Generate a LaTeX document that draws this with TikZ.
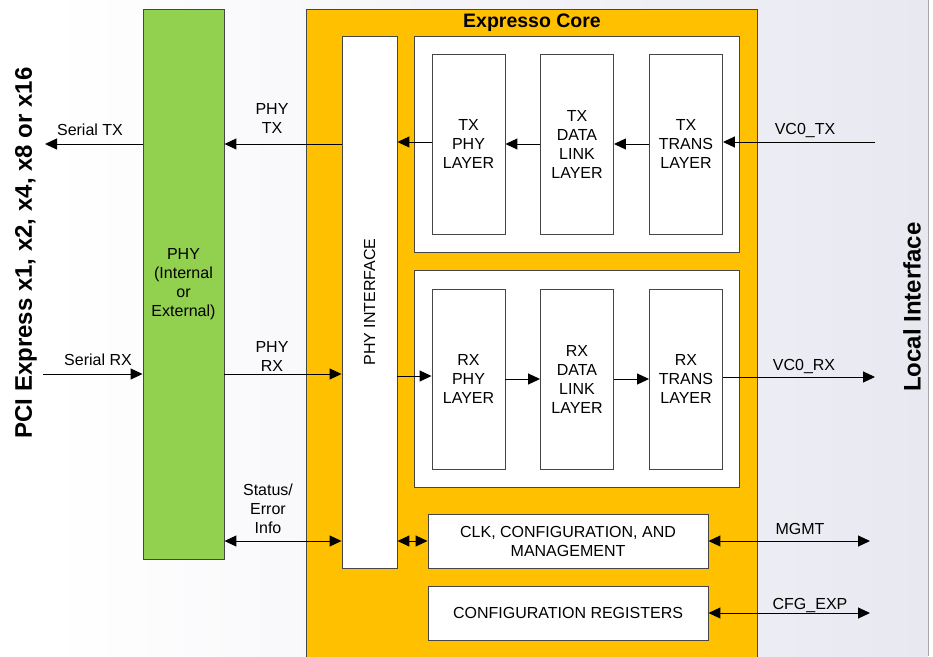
\documentclass[tikz,border=0pt]{standalone}
\usepackage{fontspec}
\setmainfont{Liberation Sans}
\usetikzlibrary{arrows.meta,shadings}
\definecolor{phygreen}{RGB}{146,208,80}
\definecolor{coreorange}{RGB}{255,192,0}
\definecolor{bgright}{RGB}{232,232,241}
\definecolor{edge}{RGB}{70,70,70}
\tikzset{
  box/.style={draw=edge,line width=0.9pt,fill=white,inner sep=0pt,align=center,
    font=\fontsize{16}{19}\selectfont},
  lbl/.style={inner sep=0pt,align=center,font=\fontsize{16}{19}\selectfont},
  title/.style={inner sep=0pt,font=\fontsize{24}{28}\selectfont\bfseries},
  arr/.style={line width=1pt,-{Triangle[length=12pt,width=11pt]}},
  barr/.style={line width=1pt,{Triangle[length=12pt,width=11pt]}-{Triangle[length=12pt,width=11pt]}}
}
\begin{document}
\begin{tikzpicture}[x=1pt,y=-1pt]
\useasboundingbox (0,0) rectangle (933,656);
\clip (0,0) rectangle (933,656);
% background
\shade[left color=white,right color=bgright] (50,0) rectangle (928,656);
\draw[gray!70,line width=0.8pt] (928,0) -- (928,656);
% main blocks
\node[box,fill=phygreen,minimum width=81pt,minimum height=550pt] (phy) at (183.5,284)
  {PHY\\(Internal\\or\\External)};
\node[box,fill=coreorange,minimum width=451pt,minimum height=660pt] (core) at (531.5,339) {};
\node[inner sep=0pt,font=\fontsize{19.5}{22}\selectfont\bfseries] (coret) at (532,23) {Expresso Core};
\node[box,minimum width=55pt,minimum height=532pt] (phyif) at (369.5,302) {};
\node[lbl,rotate=90] (phyift) at (phyif.center) {PHY INTERFACE};
\node[box,minimum width=325pt,minimum height=216pt] (txg) at (576.5,144) {};
\node[box,minimum width=325pt,minimum height=217pt] (rxg) at (576.5,378.5) {};
% TX layers
\node[box,minimum width=73pt,minimum height=180pt] (txphy) at (468.5,144) {TX\\PHY\\LAYER};
\node[box,minimum width=73pt,minimum height=180pt] (txdl) at (577,144) {TX\\DATA\\LINK\\LAYER};
\node[box,minimum width=73pt,minimum height=180pt] (txtr) at (686,144) {TX\\TRANS\\LAYER};
% RX layers
\node[box,minimum width=73pt,minimum height=180pt] (rxphy) at (468.5,379) {RX\\PHY\\LAYER};
\node[box,minimum width=73pt,minimum height=180pt] (rxdl) at (577,379) {RX\\DATA\\LINK\\LAYER};
\node[box,minimum width=73pt,minimum height=180pt] (rxtr) at (686,379) {RX\\TRANS\\LAYER};
% bottom boxes
\node[box,minimum width=280pt,minimum height=54pt] (clk) at (568,541) {CLK, CONFIGURATION, AND\\MANAGEMENT};
\node[box,minimum width=280pt,minimum height=54pt] (cfg) at (568,613) {CONFIGURATION REGISTERS};
% side titles
\node[title,rotate=90] (pcie) at (26,253) {PCI Express x1, x2, x4, x8 or x16};
\node[title,rotate=90] (loc) at (912,307) {Local Interface};
% free ends
\coordinate (stx) at (45,144);
\coordinate (srx) at (43,374);
\coordinate (vtx) at (875,142);
\coordinate (vrx) at (875,377);
\coordinate (mg) at (870,541);
\coordinate (ce) at (870,613);
% TX path
\draw[arr] (phy.west |- stx) -- (stx);
\draw[arr] (phyif.west |- stx) -- (phy.east |- stx);
\draw[arr] (txphy.west |- 0,142) -- (phyif.east |- 0,142);
\draw[arr] (txdl.west) -- (txphy.east);
\draw[arr] (txtr.west) -- (txdl.east);
\draw[arr] (vtx) -- (txtr.east |- vtx);
% RX path
\draw[arr] (srx) -- (phy.west |- srx);
\draw[arr] (phy.east |- srx) -- (phyif.west |- srx);
\draw[arr] (phyif.east |- 0,376) -- (rxphy.west |- 0,376);
\draw[arr] (rxphy.east) -- (rxdl.west);
\draw[arr] (rxdl.east) -- (rxtr.west);
\draw[arr] (rxtr.east |- vrx) -- (vrx);
% status / mgmt
\draw[barr] (phy.east |- clk) -- (phyif.west |- clk);
\draw[barr] (phyif.east |- clk) -- (clk.west);
\draw[barr] (clk.east) -- (mg);
\draw[barr] (cfg.east) -- (ce);
% labels
\node[lbl] (l1) at (90,130) {Serial TX};
\node[lbl] (l2) at (272,118) {PHY\\TX};
\node[lbl] (l3) at (98,360) {Serial RX};
\node[lbl] (l4) at (272,356) {PHY\\RX};
\node[lbl] (l5) at (268,509) {Status/\\Error\\Info};
\node[lbl] (l6) at (805,131) {VC0\_TX};
\node[lbl] (l7) at (804,366) {VC0\_RX};
\node[lbl] (l8) at (800,529) {MGMT};
\node[lbl] (l9) at (810,605) {CFG\_EXP};
\end{tikzpicture}
\end{document}
